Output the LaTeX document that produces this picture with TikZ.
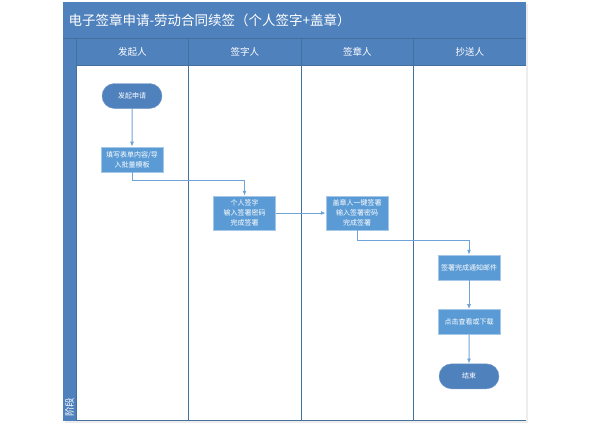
\documentclass[tikz,border=0pt]{standalone}
\usepackage{fontspec}
\setmainfont{Noto Sans CJK SC}
\usepackage{tikz}
\usetikzlibrary{arrows.meta,positioning,shapes.misc}
\definecolor{laneblue}{HTML}{4F81BD}
\definecolor{lanedark}{HTML}{41719C}
\definecolor{boxblue}{HTML}{5B9BD5}
\definecolor{linkblue}{HTML}{6FA3D8}
\tikzset{
  task/.style={draw=boxblue!55,fill=boxblue,text=white,align=center,
    minimum width=62pt,minimum height=25pt,inner sep=1pt,
    font=\fontsize{7}{10}\selectfont},
  terminal/.style={rounded rectangle,draw=laneblue!80,fill=laneblue,text=white,
    minimum width=62pt,minimum height=25pt,inner sep=1pt,
    font=\fontsize{7}{10}\selectfont},
  arrow/.style={-{Latex[length=5pt,width=4pt]},draw=linkblue,line width=1pt},
  lanehead/.style={text=white,font=\fontsize{9.5}{11}\selectfont},
  lanerule/.style={draw=lanedark,line width=0.8pt}
}

\begin{document}
\begin{tikzpicture}[x=1pt,y=-1pt,node distance=29pt]
  \useasboundingbox (0,0) rectangle (591,428);
  % pool
  \fill[black!7] (65,4) rectangle (528,423);
  \fill[laneblue] (63,2) rectangle (526,421);
  \fill[white] (76,65) rectangle (526,420);
  \draw[lanerule] (63,38) -- (526,38);
  \draw[lanerule] (76,65) -- (526,65);
  \foreach \x in {76,188,301,413}
    \draw[lanerule] (\x,38) -- (\x,420);
  \draw[lanerule] (76,420) -- (526,420);
  \node[anchor=west,text=white,font=\fontsize{13.5}{16}\selectfont] (title) at (65,20)
    {电子签章申请-劳动合同续签（个人签字+盖章）};
  \foreach \t [count=\i] in {发起人,签字人,签章人,抄送人}
    \node[lanehead] (head\i) at ({76+112.5*(\i-0.5)},52) {\t};
  \node[rotate=90,anchor=west,text=white,inner sep=1pt,font=\fontsize{9.5}{11}\selectfont] (stage) at (69.5,418) {阶段};

  % steps
  \node[terminal] (start) at (132,96) {发起申请};
  \node[task,below=38pt of start] (fill) {填写表单内容/导\\入批量模板};
  \node[task,minimum height=34pt] (sign) at (244.5,213) {个人签字\\输入签署密码\\完成签署};
  \node[task,minimum height=34pt] (seal) at (357,213) {盖章人一键签署\\输入签署密码\\完成签署};
  \node[task] (mail) at (469,267.5) {签署完成通知邮件};
  \node[task,below=of mail] (view) {点击查看或下载};
  \node[terminal,below=of view] (stop) {结束};

  \draw[arrow] (start) -- (fill);
  \draw[arrow] (fill.south) -- ++(0,8) -| (sign.north);
  \draw[arrow] (sign) -- (seal);
  \draw[arrow] (seal.south) -- ++(0,10) -| (mail.north);
  \draw[arrow] (mail) -- (view);
  \draw[arrow] (view) -- (stop);
\end{tikzpicture}
\end{document}
